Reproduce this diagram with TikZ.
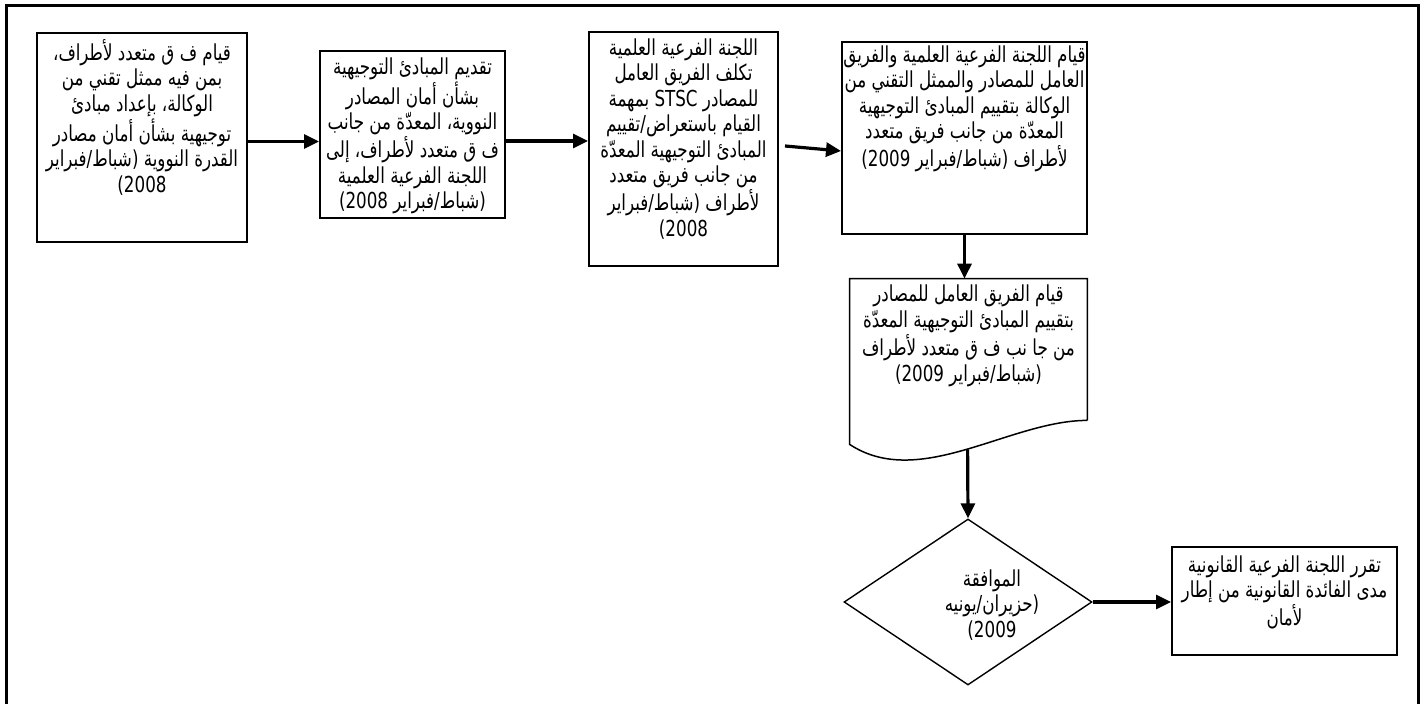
\documentclass[tikz,border=0pt]{standalone}
\usepackage{fontspec}
\usepackage{tikz}
\usetikzlibrary{calc}
\usetikzlibrary{arrows.meta,positioning}
\usetikzlibrary{shapes.geometric}
\TeXXeTstate=1
\newfontfamily\arfont[Script=Arabic,FakeStretch=0.76]{DejaVu Sans}
\newcommand{\ar}[1]{\beginR #1\endR}

\begin{document}
\begin{tikzpicture}[x=0.5pt,y=-0.5pt,
	box/.style={draw,line width=1pt,inner sep=0pt},
	txt/.style={align=center,inner sep=0pt,font=\arfont\fontsize{11}{12.75}\selectfont},
	arr/.style={-{Triangle[length=7.5pt,width=7pt]},line width=1.6pt}]
	\useasboundingbox (0,0) rectangle (1425,704);
	\draw[line width=1.5pt] (6,720) -- (6,6) -- (1418,6) -- (1418,720);

	\node[box,minimum width=105pt,minimum height=104.5pt] (b1) at (142,137.5) {};
	\node[txt,below=3.5pt of b1.north] (t1) {\ar{قيام ف ق متعدد لأطراف،}\\\ar{بمن فيه ممثل تقني من}\\\ar{الوكالة، بإعداد مبادئ}\\\ar{توجيهية بشأن أمان مصادر}\\\ar{القدرة النووية (شباط/فبراير}\\\ar{2008)}};

	\node[box,minimum width=92.5pt,minimum height=83.5pt] (b2) at (412.5,134.5) {};
	\node[txt,below=3.5pt of b2.north] (t2) {\ar{تقديم المبادئ التوجيهية}\\\ar{بشأن أمان المصادر}\\\ar{النووية، المعدّة من جانب}\\\ar{ف ق متعدد لأطراف، إلى}\\\ar{اللجنة الفرعية العلمية}\\\ar{(شباط/فبراير 2008)}};

	\node[box,minimum width=94.5pt,minimum height=117pt] (b3) at (683.5,149) {};
	\node[txt,below=3.5pt of b3.north] (t3) {\ar{اللجنة الفرعية العلمية}\\\ar{تكلف الفريق العامل}\\\ar{للمصادر STSC بمهمة}\\\ar{القيام باستعراض/تقييم}\\\ar{المبادئ التوجيهية المعدّة}\\\ar{من جانب فريق متعدد}\\\ar{لأطراف (شباط/فبراير}\\\ar{2008)}};

	\node[box,minimum width=122.5pt,minimum height=96pt] (b4) at (964.5,138) {};
	\node[txt,below=2pt of b4.north] (t4) {\ar{قيام اللجنة الفرعية العلمية والفريق}\\\ar{العامل للمصادر والممثل التقني من}\\\ar{الوكالة بتقييم المبادئ التوجيهية}\\\ar{المعدّة من جانب فريق متعدد}\\\ar{لأطراف (شباط/فبراير 2009)}};

	\node[minimum width=118.5pt,minimum height=70.5pt,inner sep=0pt] (doc) at (968.5,349.5) {};
	\draw[line width=0.75pt] (doc.south east) -- (doc.north east) -- (doc.north west) -- ($(doc.south west)+(0,24)$) .. controls ($(doc.south west)+(70,70)$) and ($(doc.south west)+(160,0)$) .. (doc.south east);
	\node[txt,below=3pt of doc.north] (t5) {\ar{قيام الفريق العامل للمصادر}\\\ar{بتقييم المبادئ التوجيهية المعدّة}\\\ar{من جا نب  ف ق متعدد لأطراف}\\\ar{(شباط/فبراير 2009)}};
	\coordinate (wv) at ($(doc.south west)+(118,29)$);

	\node[draw,diamond,line width=0.7pt,minimum width=124pt,minimum height=83pt,inner sep=0pt] (dia) at (968,602) {};
	\node[txt] (t6) at ($(dia)+(24,3)$) {\ar{الموافقة}\\\ar{(حزيران/يونيه}\\\ar{2009)}};

	\node[box,minimum width=112.5pt,minimum height=54pt] (b6) at (1284.5,601) {};
	\node[txt,below=4.5pt of b6.north] (t7) {\ar{تقرر اللجنة الفرعية القانونية}\\\ar{مدى الفائدة القانونية من إطار}\\\ar{لأمان}};

	\coordinate (a1) at ($(b1.east)+(0,4)$);
	\coordinate (a2) at ($(b2.east)+(0,6.5)$);
	\coordinate (a3) at ($(b3.east)+(6,-3)$);
	\draw[arr] (a1) -- (a1 -| b2.west);
	\draw[arr] (a2) -- (a2 -| b3.west);
	\draw[arr] (a3) -- ($(b4.west)+(0,13)$);
	\draw[arr] (b4.south) -- (b4.south |- doc.north);
	\draw[arr] (wv) -- (dia.north);
	\draw[arr] (dia.east) -- (dia.east -| b6.west);
\end{tikzpicture}
\end{document}
